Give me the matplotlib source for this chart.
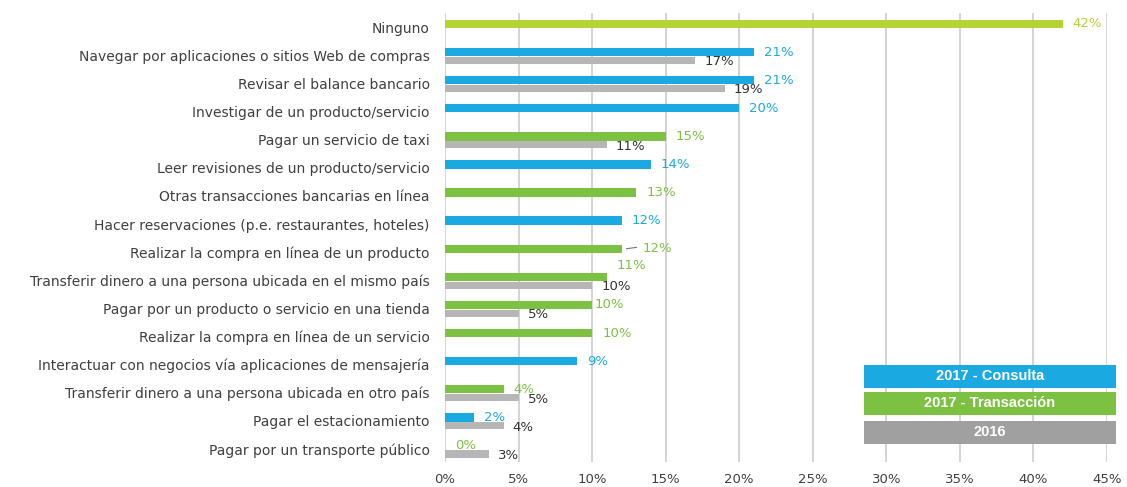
import matplotlib
matplotlib.use("Agg")
import matplotlib.pyplot as plt
from matplotlib.patches import Rectangle

categorias = [
    'Ninguno',
    'Navegar por aplicaciones o sitios Web de compras',
    'Revisar el balance bancario',
    'Investigar de un producto/servicio',
    'Pagar un servicio de taxi',
    'Leer revisiones de un producto/servicio',
    'Otras transacciones bancarias en línea',
    'Hacer reservaciones (p.e. restaurantes, hoteles)',
    'Realizar la compra en línea de un producto',
    'Transferir dinero a una persona ubicada en el mismo país',
    'Pagar por un producto o servicio en una tienda',
    'Realizar la compra en línea de un servicio',
    'Interactuar con negocios vía aplicaciones de mensajería',
    'Transferir dinero a una persona ubicada en otro país',
    'Pagar el estacionamiento',
    'Pagar por un transporte público',
]
# tipo de uso en 2017: N = ninguno, C = consulta, T = transacción
tipo_2017 = ['N', 'C', 'C', 'C', 'T', 'C', 'T', 'C', 'T', 'T', 'T', 'T', 'C', 'T', 'C', 'T']
valores_2017 = [42, 21, 21, 20, 15, 14, 13, 12, 12, 11, 10, 10, 9, 4, 2, 0]
valores_2016 = [None, 17, 19, None, 11, None, None, None, None, 10, 5, None, None, 5, 4, 3]

colores = {'N': '#b5d334', 'C': '#1ba9e1', 'T': '#7cc142'}
gris = '#b6b6b6'
texto = '#404040'

fig = plt.figure(figsize=(11.27, 4.87), dpi=100)
ax = fig.add_axes([445 / 1127, 1 - 462 / 487, 662 / 1127, 449 / 487])

px = 662 / 45  # pixeles por punto porcentual
desp = 10 / px
for i, (v17, v16, t) in enumerate(zip(valores_2017, valores_2016, tipo_2017)):
    c = colores[t]
    ax.barh(i, v17, height=0.3, color=c, zorder=3)
    if v16 is not None:
        ax.barh(i + 0.3, v16, height=0.26, color=gris, zorder=3)

    # etiquetas de valor
    x17, y17 = v17 + desp, i
    if i == 8:
        x17 = v17 + 21 / px
        ax.plot([v17 + 5 / px, v17 + 15 / px], [i, i - 0.05], color='#777777', lw=0.8, zorder=4)
    elif i == 9:
        x17, y17 = v17 + desp, i - 0.41
    elif i == 10:
        x17 = v17 + 2 / px
    ax.text(x17, y17, f'{v17}%', color=c, fontsize=9.5, va='center', ha='left', zorder=5)
    if v16 is not None:
        ax.text(v16 + desp * 0.9, i + 0.35, f'{v16}%', color='#333333', fontsize=9.5,
                va='center', ha='left', zorder=5)

ax.set_xlim(0, 45)
ax.set_ylim(15.59, -0.39)
ax.set_xticks(range(0, 46, 5))
ax.set_xticklabels([f'{x}%' for x in range(0, 46, 5)])
ax.set_yticks([i + 0.12 for i in range(len(categorias))])
ax.set_yticklabels(categorias, fontsize=10)
ax.tick_params(axis='x', labelsize=9.5)
ax.tick_params(axis='both', length=0, labelcolor=texto)
ax.tick_params(axis='y', pad=11)
ax.tick_params(axis='x', pad=8)
ax.grid(axis='x', color='#d4d4d4', lw=1.4, zorder=0)
for s in ax.spines.values():
    s.set_visible(False)

# leyenda en cajas
leyenda = [('2017 - Consulta', colores['C']), ('2017 - Transacción', colores['T']), ('2016', '#a0a0a0')]
cajas_y = [365, 392, 421]
for (nombre, col), ytop in zip(leyenda, cajas_y):
    x0, ancho, h = 864 / 1127, 252 / 1127, 22.5 / 487
    y0 = 1 - ytop / 487 - h
    fig.patches.append(Rectangle((x0, y0), ancho, h, transform=fig.transFigure,
                                 facecolor=col, edgecolor='none', zorder=6))
    fig.text(x0 + ancho / 2, y0 + h / 2, nombre, color='white', fontsize=10.5,
             fontweight='bold', family='Liberation Sans', ha='center', va='center', zorder=7)

fig.savefig('out.png', dpi=100, facecolor='white')
